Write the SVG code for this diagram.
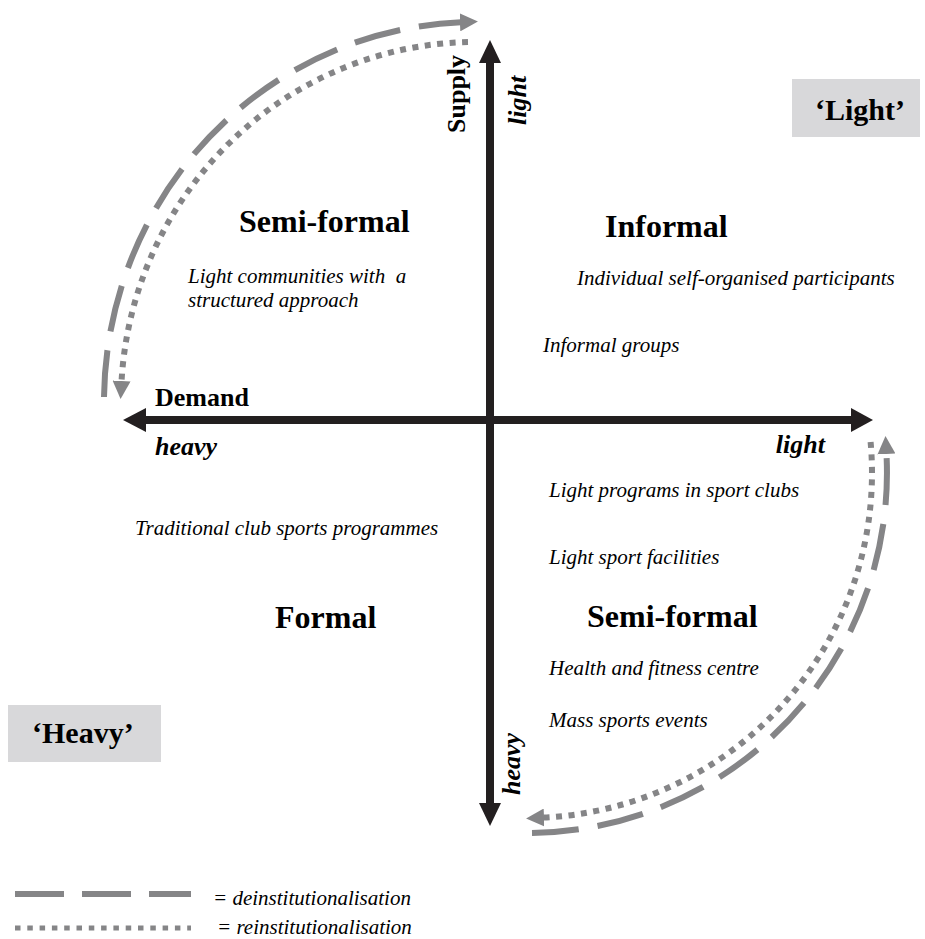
<svg xmlns="http://www.w3.org/2000/svg" width="925" height="939" viewBox="0 0 925 939">
<style>
  text { font-family: "Liberation Serif", "Times New Roman", serif; fill: #000; }
  .title { font-size: 32px; font-weight: bold; }
  .axis-lbl { font-size: 26px; font-weight: bold; }
  .axis-it { font-size: 26px; font-weight: bold; font-style: italic; }
  .item { font-size: 21px; font-style: italic; white-space: pre; }
  .box { fill: #d8d8da; }
  .box-lbl { font-size: 30px; font-weight: bold; }
  .axis { stroke: #231f20; stroke-width: 8; fill: none; }
  .head { fill: #231f20; }
  .dash { stroke: #858587; stroke-width: 6; fill: none; stroke-dasharray: 47 19; }
  .dot { stroke: #858587; stroke-width: 6; fill: none; stroke-dasharray: 6 6.5; }
</style>
<defs>
  <marker id="garrow" markerUnits="userSpaceOnUse" markerWidth="18" markerHeight="18" viewBox="0 0 17 17" refX="1" refY="8.5" orient="auto">
    <path d="M0,0 L17,8.5 L0,17 Z" fill="#858587"/>
  </marker>
</defs>
<rect width="925" height="939" fill="#fff"/>

<g id="connectors">
  <g id="axes">
    <line class="axis" x1="146" y1="420" x2="851" y2="420"/>
    <polygon class="head" points="123,420 146,408 146,432"/>
    <polygon class="head" points="873,420 851,408 851,432"/>
    <line class="axis" x1="490" y1="63" x2="490" y2="803"/>
    <polygon class="head" points="490,40 479,63 501,63"/>
    <polygon class="head" points="490,826 479,803 501,803"/>
  </g>
  <path id="arc-tl-dash" class="dash" d="M104,397 A372,380 0 0 1 461,22.3" marker-end="url(#garrow)"/>
  <path id="arc-tl-dot" class="dot" d="M468,42 A355,360 0 0 0 121.5,382" marker-end="url(#garrow)"/>
  <path id="arc-br-dash" class="dash" d="M532,833 A360,360 0 0 0 886.4,453" marker-end="url(#garrow)"/>
  <path id="arc-br-dot" class="dot" d="M870.6,442 A345,345 0 0 1 543,817.6" marker-end="url(#garrow)"/>
</g>

<g id="axis-labels">
  <text class="axis-lbl" transform="translate(465,133) rotate(-90)">Supply</text>
  <text class="axis-it" transform="translate(526,125) rotate(-90)">light</text>
  <text class="axis-it" transform="translate(520,795) rotate(-90)">heavy</text>
  <text class="axis-lbl" x="155" y="406">Demand</text>
  <text class="axis-it" x="155" y="455">heavy</text>
  <text class="axis-it" x="825" y="453" text-anchor="end">light</text>
</g>

<g id="q-topleft">
  <text class="title" x="239" y="232">Semi-formal</text>
  <text class="item" x="188" y="283" xml:space="preserve">Light communities with  a</text>
  <text class="item" x="188" y="307">structured approach</text>
</g>

<g id="q-topright">
  <text class="title" x="605" y="237">Informal</text>
  <text class="item" x="577" y="285">Individual self-organised participants</text>
  <text class="item" x="543" y="352">Informal groups</text>
</g>

<g id="q-bottomleft">
  <text class="item" x="135" y="535">Traditional club sports programmes</text>
  <text class="title" x="275" y="628">Formal</text>
</g>

<g id="q-bottomright">
  <text class="item" x="549" y="497">Light programs in sport clubs</text>
  <text class="item" x="549" y="564">Light sport facilities</text>
  <text class="title" x="587" y="627">Semi-formal</text>
  <text class="item" x="549" y="675">Health and fitness centre</text>
  <text class="item" x="549" y="727">Mass sports events</text>
</g>

<g id="box-light">
  <rect class="box" x="792" y="79" width="128" height="58"/>
  <text class="box-lbl" x="815" y="120">‘Light’</text>
</g>

<g id="box-heavy">
  <rect class="box" x="8" y="705" width="153" height="57"/>
  <text class="box-lbl" x="32" y="743">‘Heavy’</text>
</g>

<g id="legend">
  <line class="dash" x1="15" y1="894" x2="191" y2="894" style="stroke-dasharray:49 18"/>
  <text class="item" x="213" y="905">= deinstitutionalisation</text>
  <line class="dot" x1="15" y1="928" x2="191" y2="928" style="stroke-dasharray:5.5 6.8; stroke-width:5"/>
  <text class="item" x="217" y="934">= reinstitutionalisation</text>
</g>
</svg>
